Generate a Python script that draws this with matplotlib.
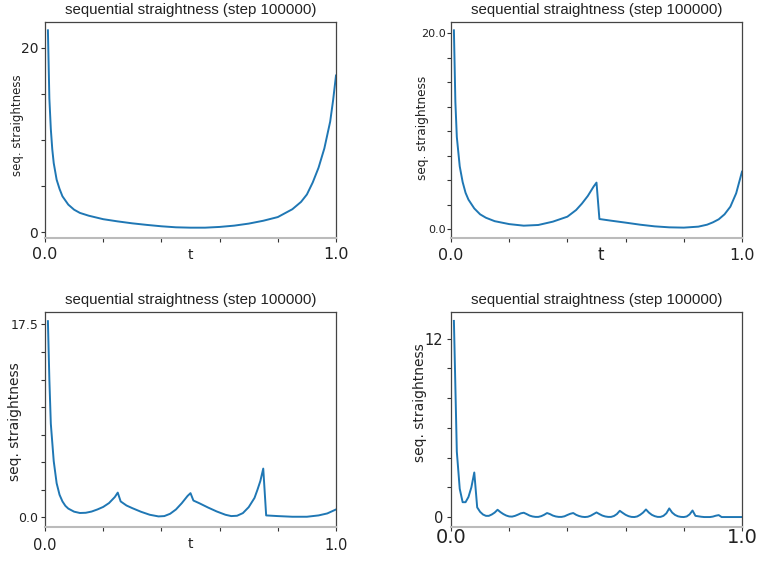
import matplotlib
matplotlib.use("Agg")
import matplotlib.pyplot as plt

TITLE = "sequential straightness (step 100000)"
YLABEL = "seq. straightness"

# --- one segment ---
t1 = [0.01, 0.015, 0.02, 0.025, 0.03, 0.04, 0.05, 0.06, 0.08, 0.10, 0.12, 0.15,
      0.20, 0.25, 0.30, 0.35, 0.40, 0.45, 0.50, 0.55, 0.60, 0.65, 0.70, 0.75,
      0.80, 0.85, 0.88, 0.90, 0.92, 0.94, 0.96, 0.98, 0.99, 1.00]
s1 = [21.9, 14.5, 11.2, 9.0, 7.5, 5.7, 4.7, 3.9, 3.0, 2.45, 2.1, 1.8,
      1.42, 1.18, 0.97, 0.8, 0.65, 0.54, 0.5, 0.5, 0.58, 0.72, 0.94, 1.25,
      1.65, 2.5, 3.3, 4.1, 5.4, 7.0, 9.1, 12.0, 14.3, 17.0]

# --- two segments ---
t2 = [0.01, 0.015, 0.02, 0.03, 0.04, 0.05, 0.06, 0.08, 0.10, 0.12, 0.15, 0.20,
      0.25, 0.30, 0.35, 0.40, 0.43, 0.45, 0.47, 0.49, 0.50, 0.51, 0.55, 0.60,
      0.65, 0.70, 0.75, 0.80, 0.85, 0.88, 0.90, 0.92, 0.94, 0.96, 0.98, 1.00]
s2 = [20.3, 13.0, 9.4, 6.4, 4.8, 3.7, 3.0, 2.1, 1.5, 1.15, 0.8, 0.5,
      0.34, 0.41, 0.75, 1.26, 1.94, 2.6, 3.37, 4.33, 4.74, 1.02, 0.85, 0.65,
      0.44, 0.27, 0.17, 0.14, 0.24, 0.44, 0.68, 0.99, 1.5, 2.28, 3.65, 5.86]

# --- four segments ---
t3 = [0.01, 0.015, 0.02, 0.03, 0.04, 0.05, 0.06, 0.07, 0.08, 0.10, 0.12, 0.14,
      0.16, 0.18, 0.20, 0.22, 0.24, 0.25, 0.26, 0.28, 0.30, 0.33, 0.36, 0.39,
      0.41, 0.43, 0.45, 0.47, 0.49, 0.50, 0.51, 0.53, 0.56, 0.59, 0.62, 0.64,
      0.66, 0.68, 0.70, 0.72, 0.73, 0.74, 0.75, 0.76, 0.80, 0.85, 0.90, 0.94,
      0.97, 1.00]
s3 = [17.8, 12.5, 8.5, 5.1, 3.1, 2.05, 1.45, 1.05, 0.8, 0.52, 0.4, 0.42,
      0.53, 0.72, 0.95, 1.3, 1.85, 2.25, 1.45, 1.08, 0.84, 0.51, 0.24, 0.09,
      0.12, 0.33, 0.72, 1.29, 1.95, 2.2, 1.53, 1.29, 0.9, 0.54, 0.24, 0.12,
      0.15, 0.39, 0.93, 1.77, 2.5, 3.3, 4.43, 0.18, 0.12, 0.06, 0.06, 0.18,
      0.36, 0.72]

# --- twelve segments ---
t4 = [0.01, 0.02, 0.03, 0.04, 0.05, 0.06, 0.07, 0.08, 0.09, 0.10,
      0.11, 0.12, 0.13, 0.14, 0.15, 0.16, 0.17, 0.18, 0.19, 0.20,
      0.21, 0.22, 0.23, 0.24, 0.25, 0.26, 0.27, 0.28, 0.29, 0.30,
      0.31, 0.32, 0.33, 0.34, 0.35, 0.36, 0.37, 0.38, 0.39, 0.40,
      0.41, 0.42, 0.43, 0.44, 0.45, 0.46, 0.47, 0.48, 0.49, 0.50,
      0.51, 0.52, 0.53, 0.54, 0.55, 0.56, 0.57, 0.58, 0.59, 0.60,
      0.61, 0.62, 0.63, 0.64, 0.65, 0.66, 0.67, 0.68, 0.69, 0.70,
      0.71, 0.72, 0.73, 0.74, 0.75, 0.76, 0.77, 0.78, 0.79, 0.80,
      0.81, 0.82, 0.83, 0.84, 0.85, 0.86, 0.87, 0.88, 0.89, 0.90,
      0.91, 0.92, 0.93, 1.00]
s4 = [13.2, 4.4, 1.9, 1.0, 1.0, 1.35, 2.0, 3.0, 0.65, 0.35,
      0.17, 0.08, 0.08, 0.17, 0.3, 0.49, 0.33, 0.2, 0.1, 0.04,
      0.03, 0.08, 0.16, 0.25, 0.29, 0.2, 0.1, 0.04, 0.01, 0.01,
      0.06, 0.15, 0.27, 0.2, 0.1, 0.04, 0.01, 0.01, 0.05, 0.14,
      0.22, 0.27, 0.15, 0.07, 0.02, 0.0, 0.02, 0.09, 0.2, 0.31,
      0.2, 0.1, 0.04, 0.01, 0.01, 0.07, 0.2, 0.42, 0.28, 0.15,
      0.06, 0.01, 0.0, 0.04, 0.15, 0.3, 0.51, 0.3, 0.15, 0.06,
      0.01, 0.01, 0.08, 0.25, 0.58, 0.3, 0.14, 0.05, 0.01, 0.0,
      0.04, 0.18, 0.44, 0.08, 0.05, 0.02, 0.0, 0.0, 0.0, 0.03,
      0.09, 0.13, 0.0, 0.0]

x_ticks = [0.0, 0.2, 0.4, 0.6, 0.8, 1.0]
x_ticklabels = ["0.0", "", "", "", "", "1.0"]

panels = [
    dict(t=t1, s=s1, rect=[45, 22, 291, 216], ylim=(-0.62, 22.8),
         yticks=[0, 5, 10, 15, 20], ylabels=["0", "", "", "", "20"],
         yfs=10, ypad=2.0, xfs=11.5, xpad=3.0,
         xlabel=True, xl_fs=10, xl_pos=(0.5, -0.045),
         yl_fs=8.5, yl_pos=(-0.072, 0.523)),
    dict(t=t2, s=s2, rect=[451, 22, 291, 216], ylim=(-0.92, 21.15),
         yticks=[0, 2.5, 5, 7.5, 10, 12.5, 15, 17.5, 20],
         ylabels=["0.0", "", "", "", "", "", "", "", "20.0"],
         yfs=8, ypad=0.8, xfs=11.5, xpad=3.7,
         xlabel=True, xl_fs=12, xl_pos=(0.515, -0.037),
         yl_fs=8.7, yl_pos=(-0.0756, 0.509)),
    dict(t=t3, s=s3, rect=[45, 312, 291, 215], ylim=(-0.87, 18.63),
         yticks=[0, 2.5, 5, 7.5, 10, 12.5, 15, 17.5],
         ylabels=["0.0", "", "", "", "", "", "", "17.5"],
         yfs=9, ypad=2.0, xfs=10.5, xpad=4.4,
         xlabel=True, xl_fs=10, xl_pos=(0.5, -0.046),
         yl_fs=10, yl_pos=(-0.079, 0.49)),
    dict(t=t4, s=s4, rect=[451, 312, 291, 215], ylim=(-0.67, 13.8),
         yticks=[0, 2, 4, 6, 8, 10, 12],
         ylabels=["0", "", "", "", "", "", "12"],
         yfs=10.5, ypad=2.8, xfs=14, xpad=-2.8,
         xlabel=False, xl_fs=10, xl_pos=(0.5, -0.04),
         yl_fs=10, yl_pos=(-0.082, 0.58)),
]

W, H = 758, 561
fig = plt.figure(figsize=(W / 100, H / 100), dpi=100)
text_color = "#222222"
title_family = ["DejaVu Sans Condensed", "Liberation Sans", "DejaVu Sans"]

for p in panels:
    x0, y0, w, h = p["rect"]
    ax = fig.add_axes([x0 / W, 1 - (y0 + h) / H, w / W, h / H])
    ax.plot(p["t"], p["s"], color="#1f77b4", lw=1.4)
    ax.set_xlim(0, 1)
    ax.set_ylim(*p["ylim"])

    ax.set_xticks(x_ticks)
    ax.set_xticklabels(x_ticklabels, fontsize=p["xfs"], color=text_color)
    ax.set_yticks(p["yticks"])
    ax.set_yticklabels(p["ylabels"], fontsize=p["yfs"], color=text_color)
    ax.tick_params(axis="x", length=3.2, width=0.8, pad=p["xpad"], colors="#333333",
                   labelcolor=text_color)
    ax.tick_params(axis="y", length=3.0, width=0.8, pad=p["ypad"], colors="#333333",
                   labelcolor=text_color)

    for side in ("left", "top", "right"):
        ax.spines[side].set_color("#444444")
        ax.spines[side].set_linewidth(0.9)
    ax.spines["bottom"].set_color("#bbbbbb")
    ax.spines["bottom"].set_linewidth(1.5)

    ax.set_title(TITLE, fontsize=10.8, color=text_color, pad=5.8,
                 family=title_family, fontstretch="condensed")
    ax.set_ylabel(YLABEL, fontsize=p["yl_fs"], color=text_color)
    ax.yaxis.set_label_coords(*p["yl_pos"])
    if p["xlabel"]:
        ax.set_xlabel("t", fontsize=p["xl_fs"], color=text_color)
        ax.xaxis.set_label_coords(*p["xl_pos"])

fig.savefig("out.png", dpi=100)
